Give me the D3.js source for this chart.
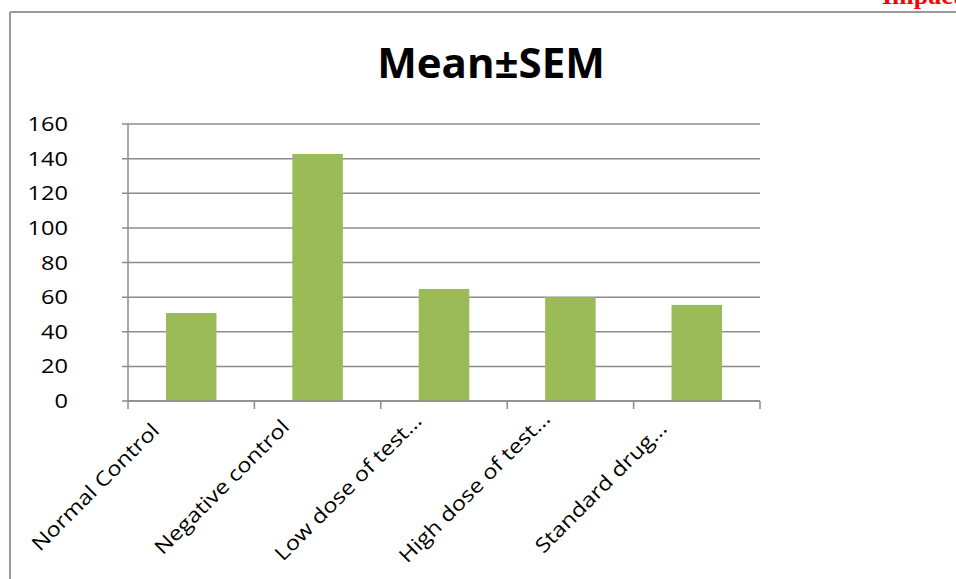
<!DOCTYPE html>
<html>
<head>
<meta charset="utf-8">
<script src="https://cdn.jsdelivr.net/npm/d3@7"></script>
<style>
  body { margin: 0; background: #fff; }
  text { font-family: "Open Sans", "Noto Sans", sans-serif; }
</style>
</head>
<body>
<script>
var categories = ["Normal Control", "Negative control", "Low dose of test\u2026", "High dose of test\u2026", "Standard drug\u2026"];
var values = [50.8, 142.7, 64.7, 60, 55.5];
var yTicks = [0, 20, 40, 60, 80, 100, 120, 140, 160];
var title = "Mean\u00b1SEM";

var width = 956, height = 579;
var plot = {left: 128, right: 760, top: 124, bottom: 401};
var grey = "#8c8c8c";

var svg = d3.select("body").append("svg")
    .attr("width", width)
    .attr("height", height);

// page frame
svg.append("line")
    .attr("x1", 10).attr("x2", width).attr("y1", 12).attr("y2", 12)
    .attr("stroke", "#9a9a9a").attr("stroke-width", 2);
svg.append("line")
    .attr("x1", 10).attr("x2", 10).attr("y1", 12).attr("y2", height)
    .attr("stroke", "#9a9a9a").attr("stroke-width", 2);

svg.append("text")
    .attr("x", 882).attr("y", 4)
    .style("font-family", "'Liberation Serif', serif")
    .attr("font-weight", "bold").attr("font-size", 26)
    .attr("fill", "#ff0000")
    .text("Impact");

var x = d3.scaleBand()
    .domain(categories)
    .range([plot.left, plot.right])
    .paddingInner(0.6)
    .paddingOuter(0.3);

var band = d3.scaleBand()
    .domain(categories)
    .range([plot.left, plot.right]);

var y = d3.scaleLinear()
    .domain([0, 160])
    .range([plot.bottom, plot.top]);

// gridlines
svg.append("g")
    .selectAll("line")
    .data(yTicks)
    .enter()
    .append("line")
    .attr("x1", plot.left - 6)
    .attr("x2", plot.right)
    .attr("y1", function(d) { return y(d); })
    .attr("y2", function(d) { return y(d); })
    .attr("stroke", grey)
    .attr("stroke-width", 1.5);

// y labels
svg.append("g")
    .selectAll("text")
    .data(yTicks)
    .enter()
    .append("text")
    .attr("transform", function(d) { return "translate(68," + y(d) + ") scale(1.18,1)"; })
    .attr("dy", "0.35em")
    .attr("text-anchor", "end")
    .attr("font-size", 20)
    .attr("fill", "#000")
    .text(function(d) { return d; });

// bars
svg.append("g")
    .selectAll("rect")
    .data(values)
    .enter()
    .append("rect")
    .attr("x", function(d, i) { return x(categories[i]); })
    .attr("width", x.bandwidth())
    .attr("y", function(d) { return y(d); })
    .attr("height", function(d) { return y(0) - y(d); })
    .attr("fill", "#9bbb59");

// axes lines
svg.append("line")
    .attr("x1", plot.left).attr("x2", plot.left)
    .attr("y1", plot.top).attr("y2", plot.bottom)
    .attr("stroke", grey).attr("stroke-width", 1.5);
svg.append("line")
    .attr("x1", plot.left).attr("x2", plot.right)
    .attr("y1", plot.bottom).attr("y2", plot.bottom)
    .attr("stroke", grey).attr("stroke-width", 1.5);

var tickX = categories.map(function(c) { return band(c); }).concat([plot.right]);
svg.append("g")
    .selectAll("line")
    .data(tickX)
    .enter()
    .append("line")
    .attr("x1", function(d) { return d; })
    .attr("x2", function(d) { return d; })
    .attr("y1", plot.bottom)
    .attr("y2", plot.bottom + 8)
    .attr("stroke", grey)
    .attr("stroke-width", 1.5);

// x labels (rotated, centred in a fixed label box)
svg.append("g")
    .selectAll("text")
    .data(categories)
    .enter()
    .append("text")
    .attr("transform", function(d) {
        var cx = band(d) + band.bandwidth() / 2 - 91;
        return "translate(" + cx + "," + 492 + ") rotate(-45) scale(1.18,1)";
    })
    .attr("text-anchor", "middle")
    .attr("font-size", 20)
    .attr("fill", "#000")
    .text(function(d) { return d; });

// title
svg.append("text")
    .attr("x", 491)
    .attr("y", 78)
    .attr("text-anchor", "middle")
    .attr("font-weight", "bold")
    .attr("font-size", 42)
    .attr("fill", "#000")
    .text(title);
</script>
</body>
</html>
